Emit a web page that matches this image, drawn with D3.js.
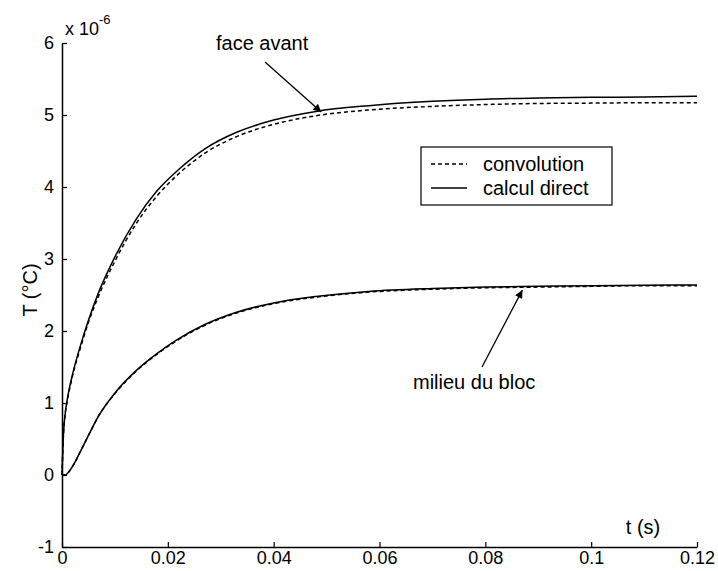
<!DOCTYPE html>
<html><head><meta charset="utf-8">
<script src="https://cdn.jsdelivr.net/npm/d3@7"></script>
<style>
body{margin:0;background:#fff;}
svg{display:block;font-family:"Liberation Sans",Arial,sans-serif;}
</style></head>
<body>
<svg id="c" width="718" height="571"></svg>
<script>
const tValues = [0, 0.0003, 0.0006, 0.001, 0.002, 0.0035, 0.005, 0.007, 0.01, 0.014, 0.018, 0.022, 0.027, 0.033, 0.04, 0.048, 0.058, 0.07, 0.08, 0.09, 0.1, 0.11, 0.12];
const faceDirect = [0, 0.6, 0.85, 1.05, 1.4, 1.8, 2.15, 2.55, 3.03, 3.55, 3.95, 4.24, 4.53, 4.76, 4.93, 5.05, 5.13, 5.19, 5.22, 5.235, 5.245, 5.25, 5.26];
const faceConv = [0, 0.6, 0.85, 1.03, 1.38, 1.77, 2.12, 2.5, 2.97, 3.49, 3.88, 4.18, 4.47, 4.70, 4.87, 4.99, 5.07, 5.12, 5.145, 5.16, 5.165, 5.17, 5.17];
const milieuDirect = [0, 0, 0, 0.02, 0.12, 0.33, 0.55, 0.83, 1.14, 1.45, 1.69, 1.89, 2.09, 2.26, 2.39, 2.48, 2.55, 2.59, 2.61, 2.62, 2.63, 2.635, 2.64];
const milieuConv = [0, 0, 0, 0.02, 0.12, 0.33, 0.55, 0.83, 1.13, 1.44, 1.68, 1.88, 2.08, 2.25, 2.38, 2.47, 2.54, 2.58, 2.60, 2.61, 2.62, 2.63, 2.63];
const xTicks = [0, 0.02, 0.04, 0.06, 0.08, 0.1, 0.12];
const yTicks = [-1, 0, 1, 2, 3, 4, 5, 6];
const legendLabels = ["convolution", "calcul direct"];

const svg = d3.select("#c");
const x = d3.scaleLinear().domain([0, 0.12]).range([62, 697]);
const y = d3.scaleLinear().domain([-1, 6]).range([547, 43]);
const fsTick = 18, fs = 20;
const ff = '"Liberation Sans",Arial,sans-serif';

const xAxis = d3.axisBottom(x).tickValues(xTicks).tickSizeInner(-5).tickSizeOuter(0).tickPadding(4)
  .tickFormat(d => d === 0 ? "0" : String(+d.toFixed(2)));
const yAxis = d3.axisLeft(y).tickValues(yTicks).tickSizeInner(-5).tickSizeOuter(0).tickPadding(8)
  .tickFormat(d => String(d));

const gx = svg.append("g").attr("transform", `translate(0,${y(-1)})`).call(xAxis);
const gy = svg.append("g").attr("transform", `translate(${x(0)},0)`).call(yAxis);
[gx, gy].forEach(g => {
  g.selectAll("path").attr("stroke", "#000").attr("stroke-width", 1.5);
  g.selectAll("line").attr("stroke", "#000").attr("stroke-width", 1.2);
  g.selectAll("text").attr("fill", "#000").style("font-size", fsTick + "px").style("font-family", ff);
});
gx.selectAll("text").attr("dy", "0.72em");

const line = arr => d3.line().x((d, i) => x(tValues[i])).y(d => y(d)).curve(d3.curveMonotoneX)(arr);

function drawSeries(arr, dashed) {
  svg.append("path").attr("d", line(arr)).attr("fill", "none").attr("stroke", "#000")
    .attr("stroke-width", 1.5).attr("stroke-dasharray", dashed ? "4,3" : null);
}
drawSeries(faceConv, true);
drawSeries(milieuConv, true);
drawSeries(faceDirect, false);
drawSeries(milieuDirect, false);

// exponent label
const ex = svg.append("text").attr("x", 65).attr("y", 35).style("font-size", fsTick + "px").attr("fill", "#000");
ex.append("tspan").text("x 10");
ex.append("tspan").attr("dy", -11).style("font-size", "13px").text("-6");

// axis titles
svg.append("text").attr("transform", "translate(37,290) rotate(-90)").attr("text-anchor", "middle")
  .style("font-size", fs + "px").text("T (°C)");
svg.append("text").attr("x", 643).attr("y", 534).attr("text-anchor", "middle")
  .style("font-size", fs + "px").text("t (s)");

// legend
svg.append("rect").attr("x", 421).attr("y", 147).attr("width", 191).attr("height", 58)
  .attr("fill", "#fff").attr("stroke", "#000").attr("stroke-width", 1.2);
legendLabels.forEach((lab, i) => {
  const yy = 164 + i * 24;
  svg.append("line").attr("x1", 431).attr("x2", 467).attr("y1", yy).attr("y2", yy)
    .attr("stroke", "#000").attr("stroke-width", 1.3).attr("stroke-dasharray", i === 0 ? "4,3" : null);
  svg.append("text").attr("x", 483).attr("y", yy + 7).style("font-size", fs + "px").text(lab);
});

// annotations with arrows
const defs = svg.append("defs");
defs.append("marker").attr("id", "ah").attr("viewBox", "0 0 10 10").attr("refX", 10).attr("refY", 5)
  .attr("markerWidth", 10).attr("markerHeight", 8).attr("orient", "auto").attr("markerUnits", "userSpaceOnUse")
  .append("path").attr("d", "M0,0 L10,5 L0,10 z").attr("fill", "#000");

svg.append("text").attr("x", 216).attr("y", 50).style("font-size", fs + "px").text("face avant");
svg.append("line").attr("x1", 265).attr("y1", 62).attr("x2", x(0.049)).attr("y2", y(5.07) + 2)
  .attr("stroke", "#000").attr("stroke-width", 1.3).attr("marker-end", "url(#ah)");

svg.append("text").attr("x", 413).attr("y", 389).style("font-size", fs + "px").text("milieu du bloc");
svg.append("line").attr("x1", 482).attr("y1", 367).attr("x2", x(0.087)).attr("y2", y(2.61) + 3)
  .attr("stroke", "#000").attr("stroke-width", 1.3).attr("marker-end", "url(#ah)");
</script>
</body></html>
